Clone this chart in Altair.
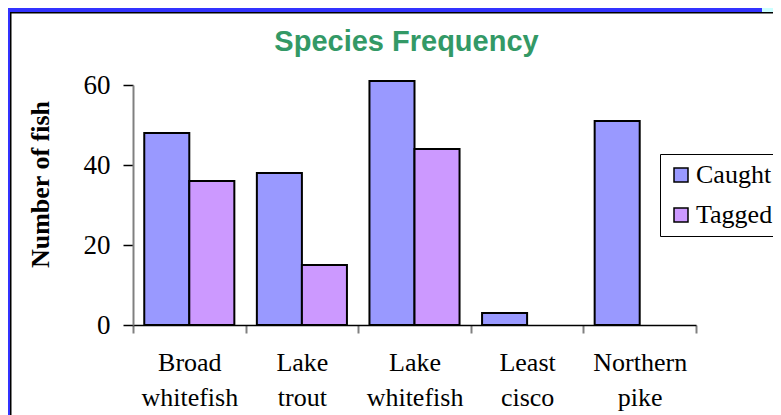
import altair as alt
import pandas as pd

categories = ["Broad whitefish", "Lake trout", "Lake whitefish", "Least cisco", "Northern pike"]
caught = [48, 38, 61, 3, 51]
tagged = [36, 15, 44, None, None]
series = ["Caught", "Tagged"]
colors = ["#9999FF", "#CC99FF"]
y_ticks = [0, 20, 40, 60]

rows = []
for name, c, t in zip(categories, caught, tagged):
    rows.append({"species": name, "series": "Caught", "count": c})
    if t is not None:
        rows.append({"species": name, "series": "Tagged", "count": t})
df = pd.DataFrame(rows)

W, H = 563, 240
SERIF = "Liberation Serif"

bars = alt.Chart(df).mark_bar(stroke="black", strokeWidth=2).encode(
    x=alt.X(
        "species:N",
        sort=categories,
        scale=alt.Scale(domain=categories, paddingInner=0, paddingOuter=0),
        axis=alt.Axis(
            title=None,
            labelExpr="split(datum.label, ' ')",
            labelAngle=0,
            labelFont=SERIF,
            labelFontSize=26,
            labelColor="black",
            labelLineHeight=35,
            labelPadding=16,
            labelBaseline="top",
            tickBand="extent",
            tickSize=8,
            tickColor="#808080",
            tickWidth=2,
            domainColor="black",
            domainWidth=1.5,
            grid=False,
        ),
    ),
    xOffset=alt.XOffset(
        "series:N",
        scale=alt.Scale(domain=series, paddingInner=0, paddingOuter=0.25),
    ),
    y=alt.Y(
        "count:Q",
        scale=alt.Scale(domain=[0, 60], nice=False),
        axis=alt.Axis(
            values=y_ticks,
            title="Number of fish",
            titleFont=SERIF,
            titleFontSize=26,
            titleFontWeight="bold",
            titleColor="black",
            titleAngle=-90,
            titleX=-93,
            titleY=99,
            titleAlign="center",
            titleBaseline="middle",
            labelFont=SERIF,
            labelFontSize=27,
            labelColor="black",
            labelPadding=13,
            tickSize=10,
            tickColor="black",
            tickWidth=1.5,
            domainColor="#808080",
            domainWidth=2,
            grid=False,
        ),
    ),
    fill=alt.Fill(
        "series:N",
        scale=alt.Scale(domain=series, range=colors),
        legend=alt.Legend(
            title=None,
            orient="none",
            legendX=527,
            legendY=69,
            padding=8,
            strokeColor="black",
            fillColor="white",
            cornerRadius=0,
            symbolType="square",
            symbolSize=196,
            symbolStrokeColor="black",
            symbolStrokeWidth=1.5,
            symbolOpacity=1,
            labelFont=SERIF,
            labelFontSize=26,
            labelColor="black",
            labelOffset=2,
            rowPadding=14,
        ),
    ),
)


def box(x1, x2, y1, y2, color):
    return alt.Chart(alt.Data(values=[{}])).mark_rect(color=color).encode(
        x=alt.value(x1), x2=alt.value(x2), y=alt.value(y1), y2=alt.value(y2)
    )


frame = (
    box(-125, 629, -77, -73, "#3333FF")
    + box(629, 640, -77, -72.5, "#CCFFFF")
    + box(-125, -123, -77, 330, "#3333FF")
    + box(-123, 640, -73, -71.5, "black")
    + box(-123, -121.5, -73, 330, "black")
)

chart = (
    alt.layer(frame, bars)
    .properties(
        width=W,
        height=H,
        title=alt.TitleParams(
            "Species Frequency",
            font="Liberation Sans",
            fontSize=29,
            fontWeight="bold",
            color="#339966",
            anchor="middle",
            baseline="alphabetic",
            dx=-8,
            dy=82,
            offset=10,
        ),
        autosize=alt.AutoSizeParams(type="none"),
        padding={"left": 125, "top": 77, "right": 77, "bottom": 90},
        background="white",
    )
    .configure_view(stroke=None)
)

chart.save("out.html", embed_options={"renderer": "svg", "actions": False})
